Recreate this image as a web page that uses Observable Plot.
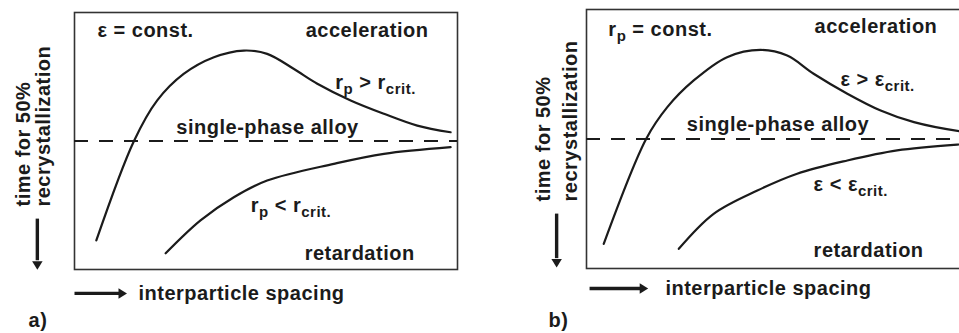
<!DOCTYPE html>
<html>
<head>
<meta charset="utf-8">
<script src="https://cdn.jsdelivr.net/npm/d3@7"></script>
<script src="https://cdn.jsdelivr.net/npm/@observablehq/plot@0.6"></script>
<style>
  html, body { margin: 0; padding: 0; background: #fff; }
  #wrap { position: relative; width: 959px; height: 333px; overflow: hidden; }
  #wrap svg { position: absolute; top: 0; overflow: visible; }
  #wrap svg text { font-family: "Liberation Sans", Arial, Helvetica, sans-serif; font-weight: bold; letter-spacing: 0.5px; }
</style>
</head>
<body>
<div id="wrap"></div>
<script>
// ---- Data (schematic values; x: interparticle spacing, y: time for 50% recrystallization, 0-100) ----
const panels = ["a", "b"];

// single-phase alloy reference level
const refLevelA = 50;
const refLevelB = 50;

// upper curve (acceleration branch)
const upperAx = [5.7, 15.5, 21.6, 28.5, 36.4, 44.2, 50.3, 57.2, 63.4, 72.1, 80.8, 89.5, 98.2];
const upperAy = [11.3, 49.9, 65.8, 76.1, 82.6, 85.2, 83.9, 78.1, 72.3, 65.8, 60.6, 56.0, 53.4];
const upperBx = [4.5, 15.6, 21.1, 28.0, 36.7, 45.4, 52.4, 59.3, 68.1, 76.8, 85.5, 97.4, 100];
const upperBy = [9.5, 50.1, 62.3, 72.6, 81.6, 84.4, 82.2, 75.2, 67.5, 61.0, 56.5, 53.0, 52.6];

// lower curve (retardation branch)
const lowerAx = [23.8, 32.9, 41.6, 50.3, 67.7, 80.8, 98.2];
const lowerAy = [6.3, 19.1, 28.1, 34.6, 41.1, 45.0, 47.6];
const lowerBx = [24.1, 33.2, 44.6, 55.0, 68.1, 81.1, 97.4, 100];
const lowerBy = [7.6, 21.1, 30.1, 36.6, 41.7, 45.6, 47.9, 48.1];

// annotation texts (use _{...} for subscripts)
const labelsA = [
  {text: "ε = const.", x: 6.0, y: 93.0, anchor: "start"},
  {text: "acceleration", x: 92.4, y: 93.0, anchor: "end"},
  {text: "r_{p} > r_{crit.}", x: 68.1, y: 72.6, anchor: "start"},
  {text: "single-phase alloy", x: 50.4, y: 55.3, anchor: "middle"},
  {text: "r_{p} < r_{crit.}", x: 46.0, y: 25.0, anchor: "start"},
  {text: "retardation", x: 60.1, y: 6.2, anchor: "start"}
];
const labelsB = [
  {text: "r_{p} = const.", x: 5.7, y: 92.3, anchor: "start"},
  {text: "acceleration", x: 91.6, y: 93.4, anchor: "end"},
  {text: "ε > ε_{crit.}", x: 66.3, y: 73.0, anchor: "start"},
  {text: "single-phase alloy", x: 50.0, y: 55.6, anchor: "middle"},
  {text: "ε < ε_{crit.}", x: 59.3, y: 32.4, anchor: "start"},
  {text: "retardation", x: 59.3, y: 6.9, anchor: "start"}
];

// axis captions drawn outside the frame
const yCaptionLines = ["time for 50%", "recrystallization"];
const xCaption = "interparticle spacing";
const panelTags = ["a)", "b)"];

// caption placement (data units, outside the 0-100 domain)
const layoutA = {yCapX: [-13.3, -8.1], yCapY: 24.5, downX: -9.7, downY: [19.8, 1.6], rightY: -9.3, rightX: [0, 12.6], xCapX: 16.7, tagX: -12.0, tagY: -19.8};
const layoutB = {yCapX: [-11.2, -4.2], yCapY: 25.9, downX: -7.8, downY: [21.2, 2.0], rightY: -7.7, rightX: [0.8, 15.0], xCapX: 20.6, tagX: -9.9, tagY: -20.1};

// ---- helpers ----
const zip = (xs, ys) => xs.map((x, i) => ({x, y: ys[i]}));

function triSymbol(dir) {
  return {
    draw(context, size) {
      const r = Math.sqrt(size / Math.PI);
      const h = r * 1.7, w = r * 1.05;
      if (dir === "down") {
        context.moveTo(-w, -h / 2); context.lineTo(w, -h / 2); context.lineTo(0, h / 2);
      } else {
        context.moveTo(-h / 2, -w); context.lineTo(-h / 2, w); context.lineTo(h / 2, 0);
      }
      context.closePath();
    }
  };
}

function applySubscripts(svg) {
  svg.querySelectorAll("text").forEach(t => {
    const s = t.textContent;
    if (!s.includes("_{")) return;
    const parts = [];
    const re = /_\{([^}]*)\}/g;
    let last = 0, m;
    while ((m = re.exec(s))) {
      if (m.index > last) parts.push({t: s.slice(last, m.index), sub: false});
      parts.push({t: m[1], sub: true});
      last = m.index + m[0].length;
    }
    if (last < s.length) parts.push({t: s.slice(last), sub: false});
    while (t.firstChild) t.removeChild(t.firstChild);
    let shifted = false;
    parts.forEach(p => {
      const ts = document.createElementNS("http://www.w3.org/2000/svg", "tspan");
      ts.textContent = p.t;
      if (p.sub && !shifted) { ts.setAttribute("dy", "5"); shifted = true; }
      else if (!p.sub && shifted) { ts.setAttribute("dy", "-5"); shifted = false; }
      if (p.sub) ts.setAttribute("font-size", "15");
      t.appendChild(ts);
    });
  });
}

function panel(opts) {
  const {upper, lower, ref, labels, L, tag, width, margins} = opts;
  const ink = "#1b1b1b";
  const txt = (data, o) => Plot.text(data, {fontSize: 20, fontWeight: "bold", fill: ink, ...o});
  const svg = Plot.plot({
    width, height: 333,
    ...margins,
    x: {domain: [0, 100], axis: null},
    y: {domain: [0, 100], axis: null},
    marks: [
      Plot.frame({stroke: "#333", strokeWidth: 1.6}),
      Plot.ruleY([ref], {x1: 0, x2: 100, stroke: ink, strokeWidth: 2, strokeDasharray: "14,11"}),
      Plot.line(upper, {x: "x", y: "y", curve: "catmull-rom", stroke: ink, strokeWidth: 2.2}),
      Plot.line(lower, {x: "x", y: "y", curve: "catmull-rom", stroke: ink, strokeWidth: 2.2}),
      txt(labels.filter(d => d.anchor === "start"), {x: "x", y: "y", text: "text", textAnchor: "start"}),
      txt(labels.filter(d => d.anchor === "end"), {x: "x", y: "y", text: "text", textAnchor: "end"}),
      txt(labels.filter(d => d.anchor === "middle"), {x: "x", y: "y", text: "text", textAnchor: "middle"}),
      // rotated y caption
      txt(yCaptionLines.map((t, i) => ({t, x: L.yCapX[i], y: L.yCapY})), {x: "x", y: "y", text: "t", rotate: -90, textAnchor: "start"}),
      // down arrow
      Plot.link([{x: L.downX, y1: L.downY[0], y2: L.downY[1] + 2}], {x1: "x", x2: "x", y1: "y1", y2: "y2", stroke: ink, strokeWidth: 3.4}),
      Plot.dot([{x: L.downX, y: L.downY[1]}], {x: "x", y: "y", symbol: triSymbol("down"), r: 5, fill: ink, stroke: "none"}),
      // right arrow
      Plot.link([{y: L.rightY, x1: L.rightX[0], x2: L.rightX[1]}], {y1: "y", y2: "y", x1: "x1", x2: "x2", stroke: ink, strokeWidth: 3.4}),
      Plot.dot([{x: L.rightX[1], y: L.rightY}], {x: "x", y: "y", symbol: triSymbol("right"), r: 5, fill: ink, stroke: "none"}),
      txt([{t: xCaption, x: L.xCapX, y: L.rightY}], {x: "x", y: "y", text: "t", textAnchor: "start"}),
      txt([{t: tag, x: L.tagX, y: L.tagY}], {x: "x", y: "y", text: "t", textAnchor: "start"})
    ]
  });
  applySubscripts(svg);
  return svg;
}

const wrap = document.getElementById("wrap");
const svgA = panel({
  upper: zip(upperAx, upperAy), lower: zip(lowerAx, lowerAy), ref: refLevelA,
  labels: labelsA, L: layoutA, tag: panelTags[0], width: 480,
  margins: {marginLeft: 74, marginRight: 23, marginTop: 12, marginBottom: 64}
});
svgA.style.left = "0px";
wrap.appendChild(svgA);

const svgB = panel({
  upper: zip(upperBx, upperBy), lower: zip(lowerBx, lowerBy), ref: refLevelB,
  labels: labelsB, L: layoutB, tag: panelTags[1], width: 492,
  margins: {marginLeft: 106, marginRight: 3, marginTop: 9, marginBottom: 65}
});
svgB.style.left = "480px";
wrap.appendChild(svgB);
</script>
</body>
</html>
